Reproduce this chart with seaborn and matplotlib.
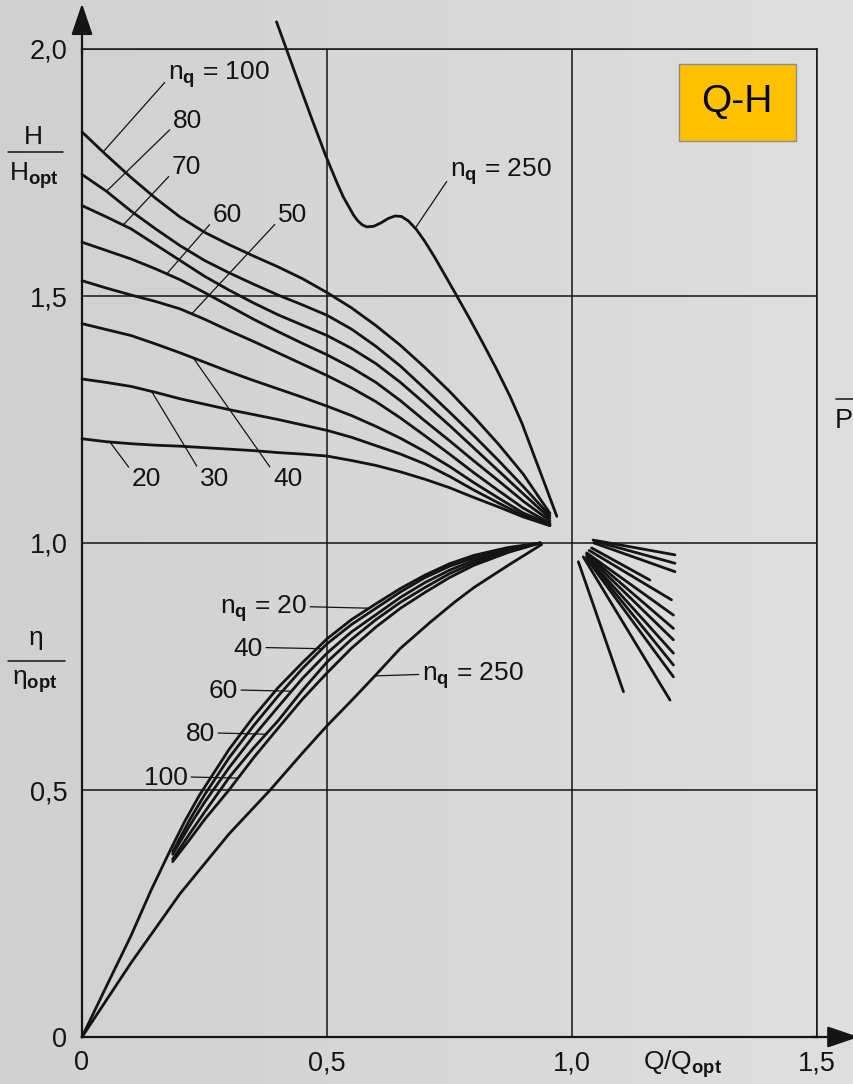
import numpy as np
import pandas as pd
import matplotlib
matplotlib.use("Agg")
import matplotlib.pyplot as plt
from matplotlib.patches import Rectangle
from matplotlib.lines import Line2D
import seaborn as sns

# ---------------------------------------------------------------------------
# Head curves H/H_opt versus Q/Q_opt for radial impellers (per n_q)
# ---------------------------------------------------------------------------
q_head = [0.0, 0.05, 0.1, 0.15, 0.2, 0.25, 0.3, 0.35, 0.4, 0.45, 0.5, 0.55, 0.6, 0.65,
          0.7, 0.75, 0.8, 0.85, 0.9, 0.955]
head_nq20 = [1.211, 1.205, 1.201, 1.198, 1.196, 1.193, 1.190, 1.187, 1.183, 1.180, 1.176,
             1.167, 1.157, 1.144, 1.129, 1.112, 1.092, 1.073, 1.053, 1.035]
head_nq30 = [1.332, 1.325, 1.317, 1.305, 1.292, 1.281, 1.270, 1.260, 1.250, 1.239, 1.228,
             1.214, 1.197, 1.180, 1.160, 1.135, 1.107, 1.081, 1.056, 1.036]
head_nq40 = [1.444, 1.432, 1.420, 1.403, 1.385, 1.366, 1.347, 1.329, 1.312, 1.295, 1.277,
             1.258, 1.236, 1.212, 1.185, 1.155, 1.122, 1.091, 1.061, 1.038]
head_nq50 = [1.531, 1.516, 1.502, 1.489, 1.474, 1.453, 1.430, 1.408, 1.385, 1.362, 1.339,
             1.314, 1.286, 1.253, 1.217, 1.180, 1.142, 1.106, 1.071, 1.040]
head_nq60 = [1.609, 1.592, 1.575, 1.555, 1.533, 1.507, 1.480, 1.453, 1.428, 1.404, 1.381,
             1.355, 1.325, 1.288, 1.247, 1.207, 1.166, 1.126, 1.085, 1.045]
head_nq70 = [1.683, 1.660, 1.636, 1.604, 1.572, 1.540, 1.512, 1.486, 1.462, 1.441, 1.420,
             1.394, 1.363, 1.325, 1.282, 1.238, 1.192, 1.146, 1.100, 1.050]
head_nq80 = [1.746, 1.712, 1.672, 1.636, 1.602, 1.572, 1.547, 1.524, 1.502, 1.482, 1.461,
             1.433, 1.398, 1.358, 1.312, 1.265, 1.217, 1.167, 1.115, 1.055]
head_nq100 = [1.832, 1.785, 1.740, 1.698, 1.660, 1.629, 1.604, 1.581, 1.559, 1.535, 1.507,
              1.476, 1.440, 1.400, 1.355, 1.307, 1.255, 1.200, 1.140, 1.060]
nq_head = [20, 30, 40, 50, 60, 70, 80, 100]

# n_q = 250: steep curve with a saddle in part load
q_head_250 = [0.397, 0.416, 0.440, 0.470, 0.497, 0.520, 0.533, 0.545, 0.554, 0.563,
              0.572, 0.581, 0.595, 0.610, 0.625, 0.639, 0.652, 0.666, 0.683, 0.700,
              0.720, 0.761, 0.790, 0.819, 0.846, 0.873, 0.898, 0.921, 0.945, 0.969]
head_nq250 = [2.055, 2.003, 1.937, 1.856, 1.785, 1.730, 1.701, 1.680, 1.664, 1.652,
              1.644, 1.640, 1.641, 1.648, 1.657, 1.662, 1.661, 1.652, 1.634, 1.610,
              1.578, 1.507, 1.456, 1.403, 1.352, 1.298, 1.242, 1.181, 1.118, 1.054]

# ---------------------------------------------------------------------------
# Efficiency curves eta/eta_opt versus Q/Q_opt
# ---------------------------------------------------------------------------
q_eff_nq20 = [0.0, 0.05, 0.10, 0.14, 0.18, 0.21, 0.24, 0.30, 0.35, 0.40, 0.45, 0.50,
              0.55, 0.60, 0.65, 0.70, 0.75, 0.80, 0.87, 0.935]
eff_nq20 = [0.0, 0.103, 0.205, 0.295, 0.378, 0.437, 0.490, 0.582, 0.648, 0.707, 0.758, 0.806,
            0.845, 0.877, 0.908, 0.935, 0.958, 0.975, 0.991, 1.0]

q_eff = [0.185, 0.22, 0.25, 0.30, 0.35, 0.40, 0.45, 0.50, 0.55, 0.60, 0.65, 0.70, 0.75,
         0.80, 0.87, 0.935]
eff_nq40 = [0.375, 0.440, 0.490, 0.565, 0.630, 0.690, 0.746, 0.796, 0.835, 0.868, 0.901,
            0.930, 0.953, 0.970, 0.988, 1.0]
eff_nq60 = [0.370, 0.428, 0.475, 0.545, 0.609, 0.668, 0.726, 0.777, 0.820, 0.855, 0.890,
            0.920, 0.945, 0.965, 0.985, 1.0]
eff_nq80 = [0.360, 0.412, 0.455, 0.525, 0.585, 0.640, 0.702, 0.759, 0.805, 0.845, 0.880,
            0.910, 0.938, 0.960, 0.983, 1.0]
eff_nq100 = [0.355, 0.400, 0.440, 0.500, 0.565, 0.625, 0.684, 0.737, 0.787, 0.830, 0.868,
             0.900, 0.930, 0.955, 0.981, 1.0]
nq_eff = [40, 60, 80, 100]

q_eff_250 = [0.0, 0.10, 0.20, 0.30, 0.384, 0.45, 0.50, 0.55, 0.594, 0.649, 0.710, 0.76,
             0.80, 0.87, 0.938]
eff_nq250 = [0.0, 0.150, 0.290, 0.411, 0.500, 0.575, 0.630, 0.681, 0.727, 0.786, 0.839,
             0.880, 0.910, 0.955, 0.997]

# Branches beyond the best efficiency point (start -> end of each branch)
over_q_start = [1.043, 1.045, 1.045, 1.040, 1.035, 1.030, 1.030, 1.030, 1.030, 1.030, 1.030, 1.023, 1.013]
over_v_start = [1.006, 1.004, 1.000, 0.990, 0.985, 0.980, 0.978, 0.975, 0.972, 0.970, 0.968, 0.972, 0.962]
over_q_end = [1.210, 1.210, 1.210, 1.159, 1.203, 1.207, 1.207, 1.207, 1.207, 1.207, 1.207, 1.200, 1.105]
over_v_end = [0.976, 0.959, 0.942, 0.925, 0.885, 0.854, 0.827, 0.804, 0.777, 0.753, 0.729, 0.682, 0.699]

# Axis ticks
x_ticks = [0, 0.5, 1.0, 1.5]
x_tick_labels = ["0", "0,5", "1,0", "1,5"]
y_ticks = [0, 0.5, 1.0, 1.5, 2.0]
y_tick_labels = ["0", "0,5", "1,0", "1,5", "2,0"]

# ---------------------------------------------------------------------------
sns.set_theme(style="white")
plt.rcParams["font.family"] = ["Liberation Sans", "DejaVu Sans"]
plt.rcParams["mathtext.fontset"] = "custom"
plt.rcParams["mathtext.rm"] = "Liberation Sans"
plt.rcParams["mathtext.it"] = "Liberation Sans:italic"
plt.rcParams["mathtext.bf"] = "Liberation Sans:bold"

INK = "#141414"
W, H = 854, 1084
fig = plt.figure(figsize=(W / 100, H / 100), dpi=100)

# paper-like background, slightly lighter towards the right
bg = fig.add_axes([0, 0, 1, 1], zorder=-10)
grad = np.linspace(0.815, 0.87, 256)[None, :]
bg.imshow(grad, aspect="auto", cmap="gray", vmin=0, vmax=1, extent=[0, 1, 0, 1])
bg.set_axis_off()

ax = fig.add_axes([82 / W, (H - 1037) / H, 735 / W, 988 / H])
ax.set_facecolor("none")

# long-form table of all curves
parts = []
for nq, vals in zip(nq_head, [head_nq20, head_nq30, head_nq40, head_nq50,
                              head_nq60, head_nq70, head_nq80, head_nq100]):
    parts.append(pd.DataFrame({"Q": q_head, "value": vals, "curve": f"H {nq}"}))
parts.append(pd.DataFrame({"Q": q_head_250, "value": head_nq250, "curve": "H 250"}))
parts.append(pd.DataFrame({"Q": q_eff_nq20, "value": eff_nq20, "curve": "eta 20"}))
for nq, vals in zip(nq_eff, [eff_nq40, eff_nq60, eff_nq80, eff_nq100]):
    parts.append(pd.DataFrame({"Q": q_eff, "value": vals, "curve": f"eta {nq}"}))
parts.append(pd.DataFrame({"Q": q_eff_250, "value": eff_nq250, "curve": "eta 250"}))
for i, (qa, va, qb, vb) in enumerate(zip(over_q_start, over_v_start, over_q_end, over_v_end)):
    parts.append(pd.DataFrame({"Q": [qa, qb], "value": [va, vb], "curve": f"over {i}"}))
curves = pd.concat(parts, ignore_index=True)

palette = {name: INK for name in curves["curve"].unique()}
sns.lineplot(data=curves, x="Q", y="value", hue="curve", palette=palette,
             sort=False, estimator=None, legend=False, linewidth=2.0, ax=ax)
for ln in ax.lines:
    ln.set_clip_on(False)
    ln.set_solid_capstyle("round")
    ln.set_solid_joinstyle("round")
    ln.set_zorder(3)

ax.set_xlim(0, 1.5)
ax.set_ylim(0, 2.0)
ax.set_xticks(x_ticks, x_tick_labels)
ax.set_yticks(y_ticks, y_tick_labels)
ax.set_xlabel("")
ax.set_ylabel("")
ax.tick_params(axis="both", length=0, labelsize=19.5, colors=INK)
ax.tick_params(axis="y", pad=10.5)
ax.tick_params(axis="x", pad=9.5)
ax.grid(True, color=INK, linewidth=1.1)
ax.set_axisbelow(True)
for side in ["top", "right"]:
    ax.spines[side].set_linewidth(1.1)
    ax.spines[side].set_color(INK)
for side in ["left", "bottom"]:
    ax.spines[side].set_linewidth(1.6)
    ax.spines[side].set_color(INK)

# axis arrows
arrow_kw = dict(arrowstyle="-|>,head_length=0.97,head_width=0.33", mutation_scale=20,
                lw=1.6, color=INK, shrinkA=0, shrinkB=0)
ax.annotate("", xy=(0, 2.092), xytext=(0, 1.99), arrowprops=arrow_kw, annotation_clip=False)
ax.annotate("", xy=(1.585, 0), xytext=(1.49, 0), arrowprops=arrow_kw, annotation_clip=False)

NQ = r"$\mathrm{n}_{\mathbf{q}}$"
lead = dict(arrowstyle="-", lw=0.9, color=INK, shrinkA=0, shrinkB=0)
lab = dict(fontsize=19, color=INK, annotation_clip=False)

# head curve labels: (text, text pos, curve Q, curve data, leader anchor on text)
head_labels = [
    (NQ + " = 100", (0.1755, 1.949), 0.043, head_nq100, (0, 0.35)),
    ("80", (0.1857, 1.855), 0.050, head_nq80, (0, 0.25)),
    ("70", (0.1837, 1.761), 0.084, head_nq70, (0, 0.25)),
    ("60", (0.267, 1.664), 0.173, head_nq60, (0, 0.25)),
    ("50", (0.400, 1.664), 0.224, head_nq50, (0, 0.25)),
    ("40", (0.390, 1.130), 0.227, head_nq40, (0, 0.8)),
    ("30", (0.241, 1.130), 0.142, head_nq30, (0, 0.8)),
    ("20", (0.102, 1.130), 0.057, head_nq20, (0, 0.8)),
]
for text, pos, qc, vals, rel in head_labels:
    yc = np.interp(qc, q_head, vals)
    ax.annotate(text, xy=(qc, yc), xytext=pos, ha="left", va="center",
                arrowprops=dict(relpos=rel, **lead), **lab)
yc = np.interp(0.680, q_head_250, head_nq250)
ax.annotate(NQ + " = 250", xy=(0.680, yc), xytext=(0.751, 1.751), ha="left", va="center",
            arrowprops=dict(relpos=(0, 0.35), **lead), **lab)

# efficiency curve labels with horizontal leaders
eff_labels = [
    (NQ + " = 20", (0.459, 0.868), q_eff_nq20, eff_nq20),
    ("40", (0.369, 0.786), q_eff, eff_nq40),
    ("60", (0.318, 0.700), q_eff, eff_nq60),
    ("80", (0.271, 0.613), q_eff, eff_nq80),
    ("100", (0.216, 0.524), q_eff, eff_nq100),
]
for text, pos, qs, vals in eff_labels:
    qc = np.interp(pos[1], vals, qs)
    ax.annotate(text, xy=(qc, pos[1]), xytext=pos, ha="right", va="center",
                arrowprops=dict(relpos=(1, 0.55), **lead), **lab)
qc = np.interp(0.731, eff_nq250, q_eff_250)
ax.annotate(NQ + " = 250", xy=(qc, 0.731), xytext=(0.694, 0.731), ha="left", va="center",
            arrowprops=dict(relpos=(0, 0.55), **lead), **lab)

# Q-H tag
ax.add_patch(Rectangle((0.812, 0.907), 0.159, 0.078, transform=ax.transAxes,
                       facecolor="#FFC000", edgecolor="#8c8c8c", lw=1.0, zorder=4))
ax.text(0.8915, 0.946, "Q-H", transform=ax.transAxes, ha="center", va="center",
        fontsize=28, color="black", zorder=5)


def fig_xy(px, py):
    return px / W, 1 - py / H


# axis titles written as fractions
fig.text(*fig_xy(33, 137), "H", ha="center", va="center", fontsize=19, color=INK)
fig.add_artist(Line2D([8 / W, 63 / W], [1 - 152 / H] * 2, color=INK, lw=1.1))
fig.text(*fig_xy(34, 176), r"$\mathrm{H}_{\mathbf{opt}}$", ha="center", va="center",
         fontsize=19, color=INK)

fig.text(*fig_xy(36, 640), r"$\mathrm{\eta}$", ha="center", va="center", fontsize=19, color=INK)
fig.add_artist(Line2D([8 / W, 65 / W], [1 - 661 / H] * 2, color=INK, lw=1.1))
fig.text(*fig_xy(35, 682), r"$\mathrm{\eta}_{\mathbf{opt}}$", ha="center", va="center",
         fontsize=19, color=INK)

fig.text(*fig_xy(643, 1064), r"Q/$\mathrm{Q}_{\mathbf{opt}}$", ha="left", va="center",
         fontsize=19, color=INK)

# right-hand power axis title at the page edge
fig.text(*fig_xy(853, 421), "P", ha="right", va="center", fontsize=19.5, color=INK)
fig.add_artist(Line2D([836 / W, 1.0], [1 - 399 / H] * 2, color=INK, lw=1.1))

fig.savefig("out.png", dpi=100)
